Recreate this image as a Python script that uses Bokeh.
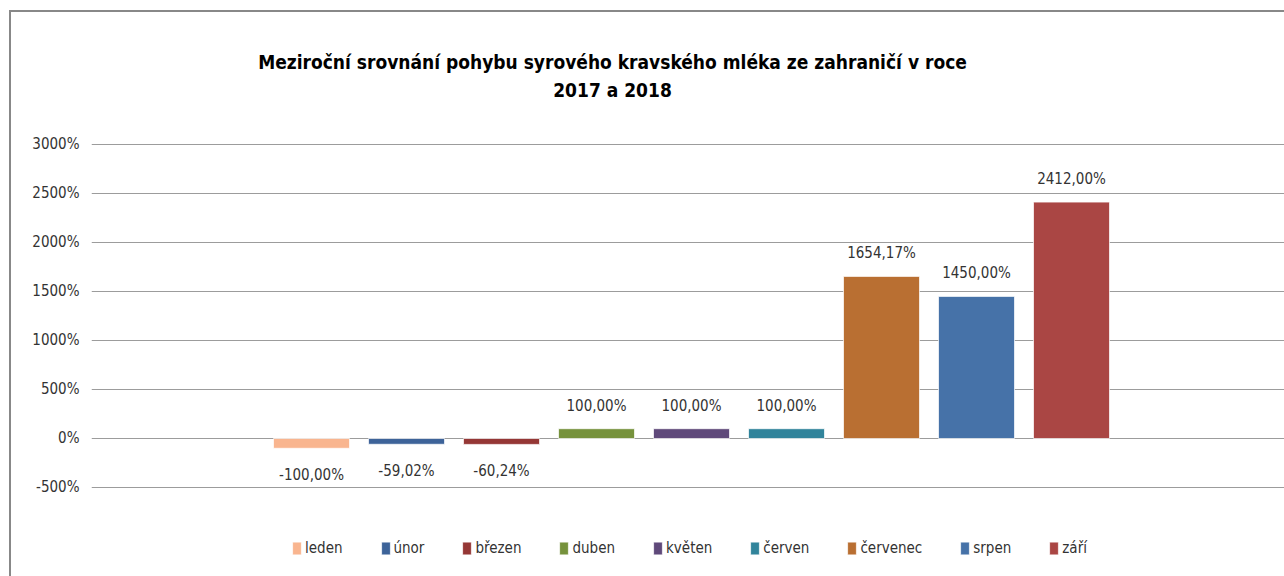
from bokeh.plotting import figure
from bokeh.models import (ColumnDataSource, Range1d, FixedTicker, PrintfTickFormatter,
                          LabelSet, Label, Legend, LegendItem)
from bokeh.core.properties import value
from bokeh.embed import file_html
from bokeh.resources import INLINE

# ---- data ----
months = ["leden", "únor", "březen", "duben", "květen", "červen", "červenec", "srpen", "září"]
values = [-100.00, -59.02, -60.24, 100.00, 100.00, 100.00, 1654.17, 1450.00, 2412.00]
colors = ["#F9B58F", "#3D6399", "#953735", "#76923C", "#5F497A", "#31849B", "#B96F32", "#4672A8", "#AA4644"]
y_ticks = [-500, 0, 500, 1000, 1500, 2000, 2500, 3000]
title_lines = ["Meziroční srovnání pohybu syrového kravského mléka ze zahraničí v roce", "2017 a 2018"]

FONT = "DejaVu Sans Condensed"
TXT = "#333333"

xs = list(range(len(months)))
labels = [f"{v:.2f}".replace(".", ",") + "%" for v in values]
src = ColumnDataSource(dict(x=xs, top=values, month=months, color=colors, label=labels))

pos = [i for i, v in enumerate(values) if v >= 0]
neg = [i for i, v in enumerate(values) if v < 0]
src_pos = ColumnDataSource(dict(x=[xs[i] for i in pos], y=[values[i] for i in pos], label=[labels[i] for i in pos]))
src_neg = ColumnDataSource(dict(x=[xs[i] for i in neg], y=[values[i] for i in neg], label=[labels[i] for i in neg]))

# The plot frame spans the whole chart height (title and legend inside it);
# the value axis itself only shows ticks from -500 % to 3000 %.
p = figure(frame_width=1193, frame_height=564,
           x_range=Range1d(-2.316, 10.242), y_range=Range1d(-1408.2, 4346.9),
           output_backend="svg", toolbar_location=None,
           min_border_left=80, min_border_right=0, min_border_top=0, min_border_bottom=0,
           background_fill_color="white", border_fill_color="white")
p.outline_line_color = None
p.styles = {"margin-top": "10px", "margin-left": "9px",
            "border-top": "2px solid #888888", "border-left": "2px solid #888888"}

r = p.vbar(x="x", top="top", bottom=0, width=0.8, source=src,
           fill_color="color", line_color="#ffffff", line_width=1, line_alpha=0.7)

p.xaxis.visible = False
p.xgrid.visible = False
p.ygrid.grid_line_color = "#9c9c9c"
p.ygrid.grid_line_width = 1
p.yaxis.ticker = FixedTicker(ticks=y_ticks)
p.yaxis.formatter = PrintfTickFormatter(format="%d%%")
p.yaxis.axis_line_color = None
p.yaxis.major_tick_line_color = None
p.yaxis.minor_tick_line_color = None
p.yaxis.major_tick_out = 0
p.yaxis.major_tick_in = 0
p.yaxis.minor_tick_out = 0
p.yaxis.major_label_standoff = 12
p.yaxis.major_label_text_font = FONT
p.yaxis.major_label_text_font_size = "15px"
p.yaxis.major_label_text_color = TXT

lab_pos = LabelSet(x="x", y="y", text="label", source=src_pos, text_align="center",
                   text_baseline="alphabetic", y_offset=18,
                   text_font=value(FONT), text_font_size="15px", text_color=TXT)
lab_neg = LabelSet(x="x", y="y", text="label", source=src_neg, text_align="center",
                   text_baseline="top", y_offset=-18,
                   text_font=value(FONT), text_font_size="15px", text_color=TXT)
p.add_layout(lab_pos)
p.add_layout(lab_neg)

# title: two centred lines (screen units from the frame's bottom-left corner)
t1 = Label(x=521, y=515, x_units="screen", y_units="screen", text=title_lines[0],
           text_align="center", text_baseline="alphabetic", text_font=FONT,
           text_font_style="bold", text_font_size="19px", text_color="#000000")
t2 = Label(x=521, y=487, x_units="screen", y_units="screen", text=title_lines[1],
           text_align="center", text_baseline="alphabetic", text_font=FONT,
           text_font_style="bold", text_font_size="19px", text_color="#000000")
p.add_layout(t1)
p.add_layout(t2)

items = [LegendItem(label=m, renderers=[r], index=i) for i, m in enumerate(months)]
legend = Legend(items=items, orientation="horizontal", location=(200, 19),
                glyph_width=11, glyph_height=16, label_standoff=3, spacing=37,
                padding=4, margin=0, border_line_color=None, background_fill_alpha=0,
                label_text_font=FONT, label_text_font_size="15px", label_text_color=TXT,
                label_height=16)
p.add_layout(legend, "center")

open("out.html", "w").write(file_html(p, INLINE))
